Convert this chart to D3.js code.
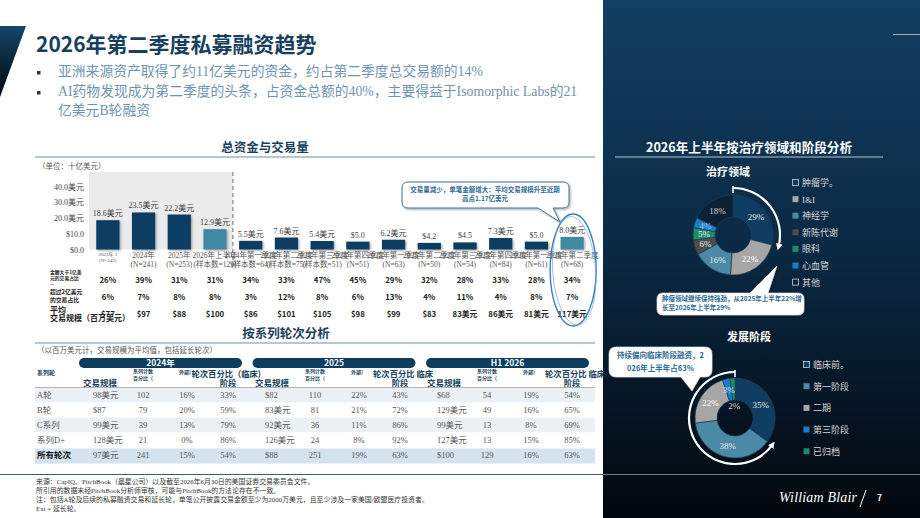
<!DOCTYPE html>
<html lang="zh">
<head>
<meta charset="UTF-8">
<title>2026年第二季度私募融资趋势</title>
<script src="https://d3js.org/d3.v7.min.js"></script>
<style>
  body { margin: 0; background: #fff; }
  svg { display: block; }
  .serif { font-family: "Liberation Serif", "Noto Sans CJK SC", serif; }
  .sans { font-family: "Noto Sans CJK SC", "Noto Sans", sans-serif; }
</style>
</head>
<body>
<svg id="slide" width="920" height="518"></svg>
<script>
// ---- data ----
const bullets = [
  ['亚洲来源资产取得了约11亿美元的资金，约占第二季度总交易额的14%'],
  ['AI药物发现成为第二季度的头条，占资金总额的40%，主要得益于Isomorphic Labs的21', '亿美元B轮融资']
];

const barLabel1 = ['2023年 1', '2024年', '2025年', '2026年上半年', '2024年第一季度', '2024年第二季度', '2024年第三季度',
  '2024年第四季度', '2025年第一季度', '2025年第二季度', '2025年第三季度', '2025年第四季度', '2026年第一季度', '2026年第二季度'];
const barLabel2 = ['(N=242)', '(N=241)', '(N=253)', '(样本数=129)', '(样本数=64)', '(样本数=75)', '(样本数=51)',
  '(N=51)', '(N=63)', '(N=50)', '(N=54)', '(N=84)', '(N=61)', '(N=68)'];
const barValues = [18.6, 23.5, 22.2, 12.9, 5.5, 7.6, 5.4, 5.0, 6.2, 4.2, 4.5, 7.3, 5.0, 8.0];
const barValueText = ['18.6美元', '23.5美元', '22.2美元', '12.9美元', '5.5美元', '7.6美元', '5.4美元', '$5.0', '6.2美元',
  '$4.2', '$4.5', '7.3美元', '$5.0', '8.0美元'];
const highlightBars = [3, 13];
const yTicks = [0, 10, 20, 30, 40];
const yTickText = ['$0.0', '$10.0', '20.0美元', '30.0美元', '40.0美元'];

const shareOver100 = ['26%', '39%', '31%', '31%', '34%', '33%', '47%', '45%', '29%', '32%', '28%', '33%', '28%', '34%'];
const shareOver200 = ['6%', '7%', '8%', '8%', '3%', '12%', '8%', '6%', '13%', '4%', '11%', '4%', '8%', '7%'];
const avgDeal = ['$77', '$97', '$88', '$100', '$86', '$101', '$105', '$98', '$99', '$83', '83美元', '86美元', '81美元', '117美元'];

const roundNames = ['A轮', 'B轮', 'C系列', '系列D+', '所有轮次'];
const periods = ['2024年', '2025', 'H1 2026'];
const dealSize = [
  ['98美元', '$87', '99美元', '128美元', '97美元'],
  ['$82', '83美元', '92美元', '126美元', '$88'],
  ['$68', '129美元', '99美元', '127美元', '$100']
];
const dealCount = [
  [102, 79, 39, 21, 241],
  [110, 81, 36, 24, 251],
  [54, 49, 13, 13, 129]
];
const extPct = [
  ['16%', '20%', '13%', '0%', '15%'],
  ['22%', '21%', '11%', '8%', '19%'],
  ['19%', '16%', '8%', '15%', '16%']
];
const clinicalPct = [
  ['33%', '59%', '79%', '86%', '54%'],
  ['43%', '72%', '86%', '92%', '63%'],
  ['54%', '65%', '69%', '85%', '63%']
];
const clinicalHead = ['轮次百分比（临床)', '轮次百分比 临床', '轮次百分比 临床'];

const therapyNames = ['肿瘤学。', 'I&I', '神经学', '新陈代谢', '眼科', '心血管', '其他'];
const therapyValues = [29, 22, 16, 6, 5, 4, 18];
const therapyColors = ['#0f3d62', '#a6a6a6', '#4a8aa6', '#4d4d4d', '#1d8a6a', '#1b7ccc', '#0b2235'];

const stageNames = ['临床前。', '第一阶段', '二期', '第三阶段', '已归档'];
const stageValues = [35, 38, 22, 3, 2];
const stageColors = ['#0f3d62', '#4a8aa6', '#a6a6a6', '#1b7ccc', '#1d8a6a'];

const footnotes = [
  '来源：CapIQ、PitchBook（晨星公司）以及截至2026年6月30日的美国证券交易委员会文件。',
  '所引用的数据未经PitchBook分析师审核，可能与PitchBook的方法论存在不一致。',
  '注：包括A轮及后续的私募融资交易和延长轮，单笔公开披露交易金额至少为2000万美元，且至少涉及一家美国/欧盟医疗投资者。',
  'Ext = 延长轮。'
];

// ---- setup ----
const navy = '#183f5e';
const svg = d3.select('#slide');
const defs = svg.append('defs');

const pg = defs.append('linearGradient').attr('id', 'panelGrad').attr('x1', 0).attr('y1', 0).attr('x2', 0).attr('y2', 1);
pg.append('stop').attr('offset', 0).attr('stop-color', '#133f62');
pg.append('stop').attr('offset', 0.5).attr('stop-color', '#0a2842');
pg.append('stop').attr('offset', 1).attr('stop-color', '#02070c');

const tg = defs.append('linearGradient').attr('id', 'triGrad').attr('x1', 0).attr('y1', 0).attr('x2', 0).attr('y2', 1);
tg.append('stop').attr('offset', 0).attr('stop-color', '#15466b');
tg.append('stop').attr('offset', 1).attr('stop-color', '#01060a');

const sh = defs.append('filter').attr('id', 'shadow').attr('x', -0.2).attr('y', -0.2).attr('width', 1.5).attr('height', 1.5);
sh.append('feDropShadow').attr('dx', 1.2).attr('dy', 1.2).attr('stdDeviation', 0.8).attr('flood-opacity', 0.35);

defs.append('marker').attr('id', 'arrowW').attr('viewBox', '0 0 10 10').attr('refX', 5).attr('refY', 5)
  .attr('markerWidth', 3).attr('markerHeight', 3).attr('orient', 'auto')
  .append('path').attr('d', 'M0,0 L10,5 L0,10 z').attr('fill', '#fff');

// right panel
svg.append('rect').attr('x', 603).attr('y', 0).attr('width', 317).attr('height', 518).attr('fill', 'url(#panelGrad)');
svg.append('line').attr('x1', 893).attr('x2', 920).attr('y1', 34.5).attr('y2', 34.5).attr('stroke', '#9fb0bd').attr('stroke-width', 1);

// corner triangle + title
svg.append('polygon').attr('points', '0,26 26,26 0,97').attr('fill', 'url(#triGrad)');
svg.append('text').attr('class', 'sans').attr('x', 36).attr('y', 52).attr('font-size', 21).attr('font-weight', 700)
  .attr('fill', navy).text('2026年第二季度私募融资趋势');

let by = 76;
bullets.forEach(lines => {
  svg.append('rect').attr('x', 37).attr('y', by - 5).attr('width', 3.5).attr('height', 3.5).attr('fill', '#333');
  lines.forEach(l => {
    svg.append('text').attr('class', 'serif').attr('x', 58).attr('y', by).attr('font-size', 13.8)
      .attr('fill', '#6f93b0').text(l);
    by += 18.5;
  });
  by += 1.5;
});

function sectionHeader(text, cx, cy, lineY) {
  svg.append('text').attr('class', 'sans').attr('x', cx).attr('y', cy).attr('text-anchor', 'middle')
    .attr('font-size', 12.5).attr('font-weight', 700).attr('fill', navy).text(text);
  svg.append('line').attr('x1', 35).attr('x2', 595).attr('y1', lineY).attr('y2', lineY)
    .attr('stroke', '#6e8fa6').attr('stroke-width', 1.2);
}

// ---- bar chart ----
sectionHeader('总资金与交易量', 265, 152, 157);
svg.append('text').attr('class', 'serif').attr('x', 38).attr('y', 169).attr('font-size', 7.5).attr('fill', '#555')
  .text('（单位：十亿美元）');

const x = d3.scaleBand().domain(d3.range(barValues.length)).range([90, 590]).paddingInner(0.35).paddingOuter(0.175);
const y = d3.scaleLinear().domain([0, 40]).range([249.5, 186.5]);
const divX = x(3) + x.bandwidth() + (x.step() - x.bandwidth()) / 2;

svg.append('rect').attr('x', 89).attr('y', 172).attr('width', divX - 89).attr('height', y(0) - 172).attr('fill', '#ebebeb');
svg.append('line').attr('x1', divX).attr('x2', divX).attr('y1', 172).attr('y2', 270)
  .attr('stroke', '#9a9a9a').attr('stroke-width', 1.5).attr('stroke-dasharray', '4,3');

svg.append('g').attr('class', 'serif').attr('transform', 'translate(84,0)')
  .call(d3.axisLeft(y).tickValues(yTicks).tickSize(0).tickPadding(0).tickFormat((d, i) => yTickText[i]))
  .call(g => g.select('.domain').remove())
  .call(g => g.selectAll('text').attr('font-size', 8).attr('fill', '#444').attr('font-family', null));

svg.append('g').selectAll('rect').data(barValues).join('rect')
  .attr('x', (d, i) => x(i)).attr('y', d => y(d))
  .attr('width', x.bandwidth()).attr('height', d => y(0) - y(d))
  .attr('fill', (d, i) => highlightBars.includes(i) ? '#3f88a4' : '#0b3d62')
  .attr('filter', 'url(#shadow)');

svg.append('g').attr('class', 'serif').selectAll('text').data(barValues).join('text')
  .attr('x', (d, i) => x(i) + x.bandwidth() / 2).attr('y', d => y(d) - 4)
  .attr('text-anchor', 'middle').attr('font-size', 8).attr('fill', '#404040')
  .text((d, i) => barValueText[i]);

const xl = svg.append('g').attr('class', 'serif').selectAll('text').data(barLabel1).join('text')
  .attr('text-anchor', 'middle').attr('fill', '#555')
  .attr('font-size', (d, i) => i === 0 ? 5 : 7.5);
xl.append('tspan').attr('x', (d, i) => x(i) + x.bandwidth() / 2).attr('y', (d, i) => i === 0 ? 256 : 258).text(d => d);
xl.append('tspan').attr('x', (d, i) => x(i) + x.bandwidth() / 2).attr('y', (d, i) => i === 0 ? 262 : 266.5)
  .text((d, i) => barLabel2[i]);

// stats rows
const statRows = [
  { vals: shareOver100, y: 283, label: ['金额大于1亿美', '元的交易占比', '—'], ly: [274, 280, 286], ls: 4.8 },
  { vals: shareOver200, y: 300, label: ['超过2亿美元', '的交易占比'], ly: [293.5, 301.5], ls: 5.8 },
  { vals: avgDeal, y: 317, label: ['平均', '交易规模（百万美元）'], ly: [313, 320.5], ls: 8 }
];
statRows.forEach(r => {
  r.label.forEach((t, j) => svg.append('text').attr('class', 'sans').attr('x', 50).attr('y', r.ly[j])
    .attr('font-size', r.ls).attr('font-weight', 700).attr('fill', '#222').text(t));
  svg.append('g').attr('class', 'sans').selectAll('text').data(r.vals).join('text')
    .attr('x', (d, i) => x(i) + x.bandwidth() / 2).attr('y', r.y).attr('text-anchor', 'middle')
    .attr('font-size', 7.8).attr('font-weight', 700).attr('fill', '#222').text(d => d);
});

function calloutPath(x0, y0, w, h, r, side, b1, b2, tx, ty) {
  const p = d3.path();
  p.moveTo(x0 + r, y0);
  if (side === 'top') { p.lineTo(b1, y0); p.lineTo(tx, ty); p.lineTo(b2, y0); }
  p.lineTo(x0 + w - r, y0);
  p.quadraticCurveTo(x0 + w, y0, x0 + w, y0 + r);
  p.lineTo(x0 + w, y0 + h - r);
  p.quadraticCurveTo(x0 + w, y0 + h, x0 + w - r, y0 + h);
  if (side === 'bottom') { p.lineTo(b2, y0 + h); p.lineTo(tx, ty); p.lineTo(b1, y0 + h); }
  p.lineTo(x0 + r, y0 + h);
  p.quadraticCurveTo(x0, y0 + h, x0, y0 + h - r);
  p.lineTo(x0, y0 + r);
  p.quadraticCurveTo(x0, y0, x0 + r, y0);
  p.closePath();
  return p.toString();
}
function calloutText(lines, cx, y0, dy, size, anchor) {
  const t = svg.append('text').attr('class', 'sans').attr('font-size', size).attr('font-weight', 700)
    .attr('fill', '#2d6a94').attr('text-anchor', anchor || 'middle');
  lines.forEach((l, i) => t.append('tspan').attr('x', cx).attr('y', y0 + i * dy).text(l));
}

// callout + ellipse on bar chart
svg.append('path').attr('d', calloutPath(402, 182, 167, 26, 6, 'bottom', 538, 553, 560, 222))
  .attr('fill', '#fff').attr('stroke', '#3f7595').attr('stroke-width', 1).attr('filter', 'url(#shadow)');
calloutText(['交易量减少，单笔金额增大：平均交易规模升至近期', '高点1.17亿美元'], 485, 191.5, 9, 6.5);

const lastCx = x(13) + x.bandwidth() / 2;
svg.append('ellipse').attr('cx', lastCx + 1).attr('cy', 270).attr('rx', 23).attr('ry', 56)
  .attr('fill', 'none').attr('stroke', '#3b7dc0').attr('stroke-width', 1.4);
svg.append('ellipse').attr('cx', lastCx + 2).attr('cy', 271).attr('rx', 21.5).attr('ry', 54.5)
  .attr('fill', 'none').attr('stroke', '#7aa7d4').attr('stroke-width', 0.7)
  .attr('transform', `rotate(-4 ${lastCx} 270)`);

// ---- table ----
sectionHeader('按系列轮次分析', 286, 338, 343);
svg.append('text').attr('class', 'serif').attr('x', 37).attr('y', 353).attr('font-size', 7.5).attr('fill', '#555')
  .text('（以百万美元计，交易规模为平均值，包括延长轮次）');

const rowY = d3.scalePoint().domain(d3.range(roundNames.length)).range([395, 455]);
const rowFill = ['#eaf1f6', '#fff', '#eaf1f6', '#fff', '#d3e4ef'];
svg.append('g').selectAll('rect').data(roundNames).join('rect')
  .attr('x', 35).attr('y', (d, i) => rowY(i) - 7.5 + (i === 4 ? 1 : 0)).attr('width', 560).attr('height', 15)
  .attr('fill', (d, i) => rowFill[i]);
svg.append('line').attr('x1', 35).attr('x2', 595).attr('y1', 387.5).attr('y2', 387.5).attr('stroke', '#b5b5b5');

svg.append('text').attr('class', 'sans').attr('x', 37).attr('y', 375).attr('font-size', 6).attr('font-weight', 700)
  .attr('fill', navy).text('系列轮');

svg.append('g').selectAll('text').data(roundNames).join('text')
  .attr('class', (d, i) => i === 4 ? 'sans' : 'serif')
  .attr('x', 37).attr('y', (d, i) => rowY(i) + 3)
  .attr('font-size', 8.5).attr('font-weight', (d, i) => i === 4 ? 700 : 400)
  .attr('fill', (d, i) => i === 4 ? '#111' : '#555').text(d => d);

periods.forEach((p, g) => {
  const off = g * 172;
  svg.append('rect').attr('x', 79 + g * 173.5).attr('y', 358).attr('width', 163).attr('height', 10)
    .attr('rx', 5).attr('fill', '#0e3d60');
  svg.append('text').attr('class', 'sans').attr('x', 79 + g * 173.5 + 81.5).attr('y', 366.3).attr('text-anchor', 'middle')
    .attr('font-size', 8.5).attr('font-weight', 700).attr('fill', '#fff').text(p);

  const hd = svg.append('g').attr('class', 'sans').attr('font-weight', 700).attr('fill', navy);
  hd.append('text').attr('x', 100 + off).attr('y', 386).attr('text-anchor', 'middle').attr('font-size', 8.5).text('交易规模');
  hd.append('text').attr('x', 133 + off).attr('y', 373).attr('font-size', 5).text('系列计数');
  hd.append('text').attr('x', 133 + off).attr('y', 379.5).attr('font-size', 5).text('百分比（');
  hd.append('text').attr('x', 179 + off).attr('y', 374).attr('font-size', 5).text('外部)');
  hd.append('text').attr('x', 261 + off).attr('y', 377).attr('text-anchor', 'end').attr('font-size', 8.3).text(clinicalHead[g]);
  hd.append('text').attr('x', 228 + off).attr('y', 386).attr('text-anchor', 'middle').attr('font-size', 8.3).text('阶段');

  const cols = [
    { vals: dealSize[g], x: 93 + off, anchor: 'start' },
    { vals: dealCount[g], x: 143 + off, anchor: 'middle' },
    { vals: extPct[g], x: 187 + off, anchor: 'middle' },
    { vals: clinicalPct[g], x: 228 + off, anchor: 'middle' }
  ];
  cols.forEach(c => {
    svg.append('g').attr('class', 'serif').selectAll('text').data(c.vals).join('text')
      .attr('x', c.x).attr('y', (d, i) => rowY(i) + 3).attr('text-anchor', c.anchor)
      .attr('font-size', 8.5).attr('fill', '#555').text(d => d);
  });
});

// ---- footer ----
svg.append('line').attr('x1', 0).attr('x2', 603).attr('y1', 474.5).attr('y2', 474.5).attr('stroke', '#3d5a70').attr('stroke-width', 1.2);
svg.append('line').attr('x1', 603).attr('x2', 920).attr('y1', 474.5).attr('y2', 474.5).attr('stroke', '#8d9ba7').attr('stroke-width', 0.8);
svg.append('g').attr('class', 'serif').selectAll('text').data(footnotes).join('text')
  .attr('x', 36).attr('y', (d, i) => 484 + i * 9).attr('font-size', 6.9).attr('fill', '#333').text(d => d);

svg.append('text').attr('x', 779).attr('y', 502).attr('font-family', '"Liberation Serif", serif').attr('font-style', 'italic')
  .attr('font-size', 14).attr('fill', '#fff').attr('textLength', 78).text('William Blair');
svg.append('line').attr('x1', 860).attr('x2', 866).attr('y1', 507).attr('y2', 490).attr('stroke', '#fff').attr('stroke-width', 1);
svg.append('text').attr('class', 'sans').attr('x', 877).attr('y', 501).attr('font-size', 8.5).attr('font-weight', 700)
  .attr('fill', '#fff').text('7');

// ---- right panel ----
svg.append('text').attr('class', 'sans').attr('x', 749).attr('y', 152).attr('text-anchor', 'middle').attr('font-size', 12.6)
  .attr('font-weight', 700).attr('fill', '#fff').text('2026年上半年按治疗领域和阶段分析');
svg.append('line').attr('x1', 615).attr('x2', 883).attr('y1', 157).attr('y2', 157).attr('stroke', '#b9c5ce').attr('stroke-width', 1);

function donut(cx, cy, values, colors, names, legendX, legendY, legendStep, labelColors) {
  const pie = d3.pie().sort(null).value(d => d);
  const arc = d3.arc().innerRadius(18).outerRadius(40);
  const labelArc = d3.arc().innerRadius(29).outerRadius(29);
  const holeArc = d3.arc().innerRadius(12).outerRadius(12);
  const arcs = pie(values);
  const g = svg.append('g').attr('transform', `translate(${cx},${cy})`);
  g.selectAll('path').data(arcs).join('path').attr('d', arc)
    .attr('fill', (d, i) => colors[i]).attr('stroke', '#1e3d56').attr('stroke-width', 0.7);
  g.selectAll('text').data(arcs).join('text').attr('class', 'serif')
    .attr('transform', d => `translate(${(d.data <= 2 ? holeArc : labelArc).centroid(d)})`)
    .attr('text-anchor', 'middle').attr('dy', '0.35em').attr('font-size', 9)
    .attr('fill', (d, i) => labelColors[i]).text(d => d.data + '%');

  const lg = svg.append('g').selectAll('g').data(names).join('g')
    .attr('transform', (d, i) => `translate(${legendX},${legendY + i * legendStep})`);
  lg.append('rect').attr('x', 0.5).attr('y', -3.5).attr('width', 6).attr('height', 6)
    .attr('fill', (d, i) => colors[i])
    .attr('stroke', (d, i) => ['#0f3d62', '#0b2235'].includes(colors[i]) ? '#c8d2da' : 'none').attr('stroke-width', 0.8);
  lg.append('text').attr('class', 'serif').attr('x', 10).attr('y', 3).attr('font-size', 9).attr('fill', '#d6d6d6').text(d => d);
}

function arcArrow(cx, cy, r, a0, a1, ccw) {
  const p = d3.path();
  p.arc(cx, cy, r, a0 - Math.PI / 2, a1 - Math.PI / 2, ccw);
  svg.append('path').attr('d', p.toString()).attr('fill', 'none').attr('stroke', '#fff').attr('stroke-width', 2.2)
    .attr('marker-end', 'url(#arrowW)');
  svg.append('line').attr('x1', cx).attr('x2', cx).attr('y1', cy - r - 2).attr('y2', cy - r + 5)
    .attr('stroke', '#fff').attr('stroke-width', 1.5);
}

// therapy donut
svg.append('text').attr('class', 'sans').attr('x', 728).attr('y', 176).attr('text-anchor', 'middle').attr('font-size', 11)
  .attr('font-weight', 700).attr('fill', '#fff').text('治疗领域');
donut(733, 235, therapyValues, therapyColors, therapyNames, 792, 183, 16.6,
  ['#e6e6e6', '#fff', '#e6e6e6', '#eee', '#eee', '#9cc3e8', '#cfcfcf']);
arcArrow(733, 235, 47, 0, 1.83, false);

svg.append('path').attr('d', calloutPath(657, 293, 147, 22, 6, 'top', 750, 768, 777, 266))
  .attr('fill', '#fff').attr('stroke', '#dfe6ec').attr('stroke-width', 0.6).attr('filter', 'url(#shadow)');
calloutText(['肿瘤领域继续保持强劲，从2025年上半年22%增', '长至2026年上半年29%'], 662, 301, 9, 6.5, 'start');

// stage donut
svg.append('text').attr('class', 'sans').attr('x', 749).attr('y', 341).attr('text-anchor', 'middle').attr('font-size', 11)
  .attr('font-weight', 700).attr('fill', '#fff').text('发展阶段');
donut(735, 418, stageValues, stageColors, stageNames, 803, 365, 21.7,
  ['#e6e6e6', '#e6e6e6', '#fff', '#cfe2f5', '#d6d6d6']);
arcArrow(735, 418, 46, 0, -4.1, true);

svg.append('path').attr('d', calloutPath(609, 347, 103, 30, 7, 'bottom', 681, 700, 692, 391))
  .attr('fill', '#fff').attr('stroke', '#dfe6ec').attr('stroke-width', 0.6).attr('filter', 'url(#shadow)');
calloutText(['持续偏向临床阶段融资，2', '026年上半年占63%'], 660.5, 357.5, 13, 7.5);
</script>
</body>
</html>
